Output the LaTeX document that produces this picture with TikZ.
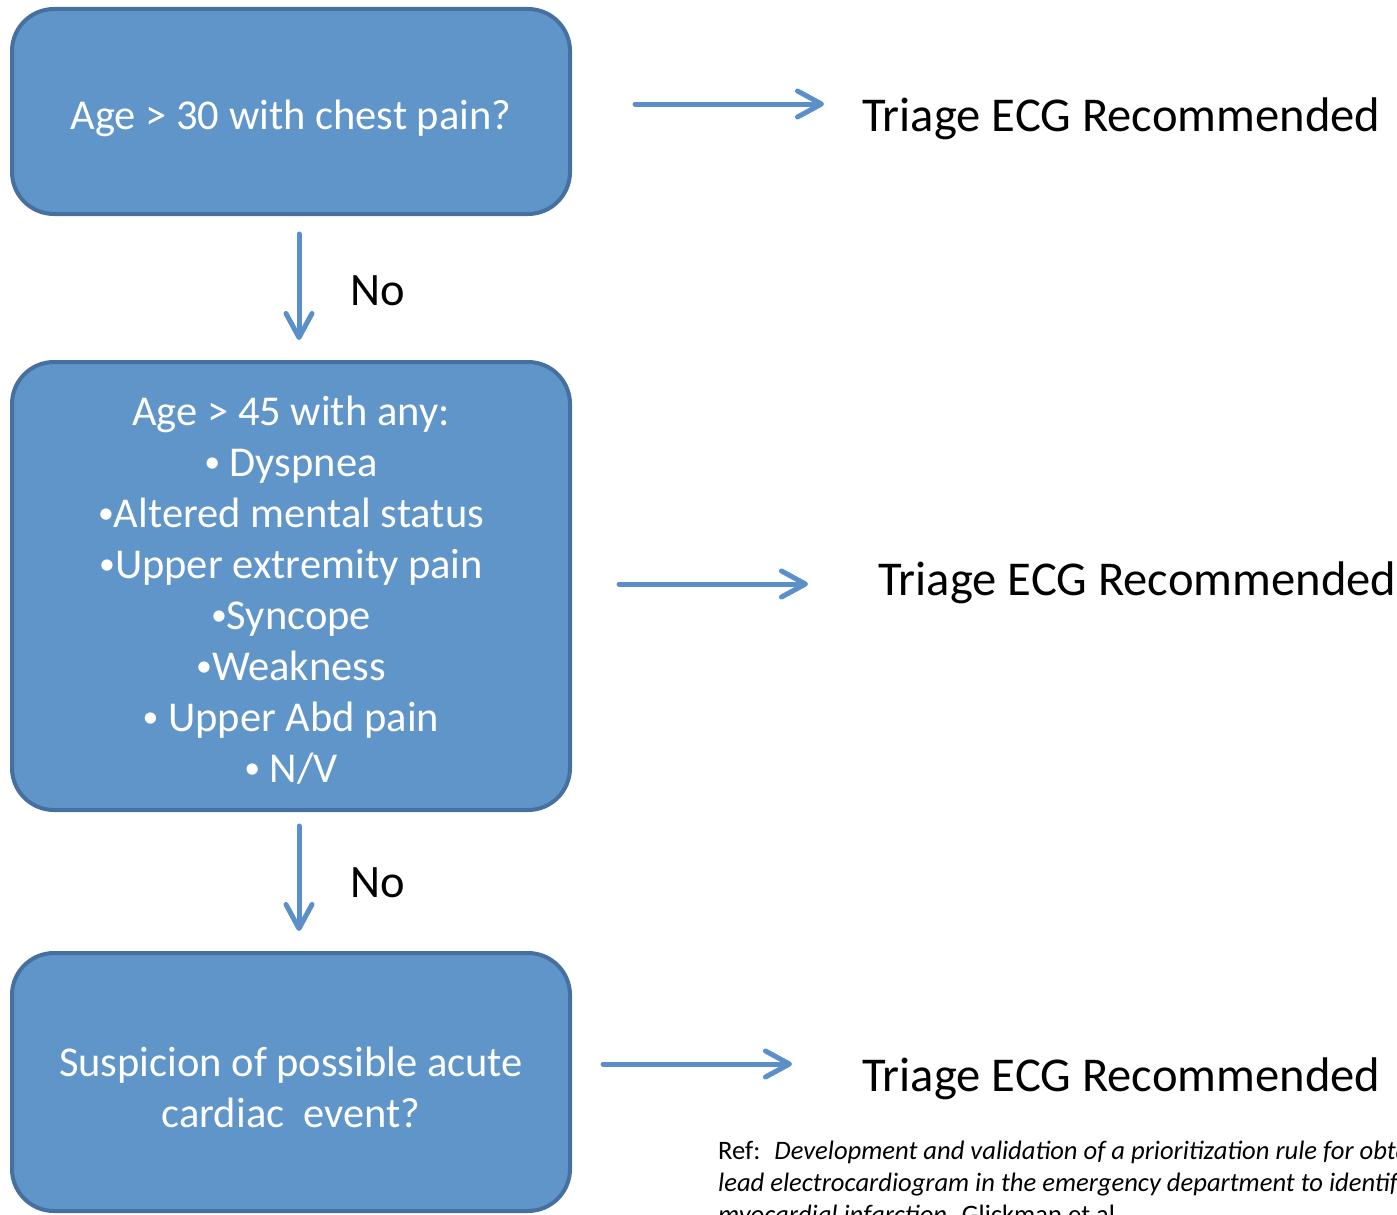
\documentclass[tikz,border=0pt]{standalone}
\usepackage{fontspec}
\setmainfont{Carlito}
\usetikzlibrary{arrows.meta}
\definecolor{boxfill}{HTML}{6095C9}
\definecolor{boxdraw}{HTML}{45709F}
\definecolor{arr}{HTML}{5B8FC8}
\newcommand{\bul}{\raisebox{0.1em}{\scalebox{0.75}{•}}}
\begin{document}
\begin{tikzpicture}[x=1pt,y=-1pt,
  box/.style={draw=boxdraw, fill=boxfill, line width=4pt, rounded corners=42pt,
    minimum width=558pt, inner sep=0pt},
  boxtext/.style={text=white, font=\fontsize{42.5}{51}\selectfont, align=center, inner sep=0pt},
  flow/.style={draw=arr, line width=5pt, line cap=round,
    -{Straight Barb[length=24pt,width=26pt,line cap=round,line join=round]}},
  result/.style={font=\fontsize{48.6}{58}\selectfont, inner sep=0pt, anchor=west},
  nolabel/.style={font=\fontsize{46.5}{55}\selectfont, inner sep=0pt},
  reftext/.style={font=\fontsize{26.6}{32}\selectfont, inner sep=0pt, anchor=north west, align=left}]
\useasboundingbox (0,0) rectangle (1397,1215);
\clip (0,0) rectangle (1397,1215);

\node[box, minimum height=205pt,
  label={[boxtext, yshift=-7pt]center:Age > 30 with chest pain?}] (b1) at (291,111.5) {};
\node[box, minimum height=448pt,
  label={[boxtext, yshift=-4pt]center:{Age > 45 with any:\\ \bul\ Dyspnea\\ \bul Altered mental status\\ \bul Upper extremity pain\\ \bul Syncope\\ \bul Weakness\\ \bul\ Upper Abd pain\\ \bul\ N/V}}] (b2) at (291,586) {};
\node[box, minimum height=258pt,
  label={[boxtext, yshift=-5pt]center:{Suspicion of possible acute\\cardiac~ event?}}] (b3) at (291,1082) {};

\node[result] (t1) at (862,119) {Triage ECG Recommended};
\node[result] (t2) at (878,583) {Triage ECG Recommended};
\node[result] (t3) at (862,1079) {Triage ECG Recommended};

\node[nolabel] (n1) at (378,291) {No};
\node[nolabel] (n2) at (378,883) {No};

\draw[flow] ([shift={(8,18)}]b1.south) -- ([shift={(8,-20)}]b2.north);
\draw[flow] ([shift={(8,14)}]b2.south) -- ([shift={(8,-20)}]b3.north);

\draw[flow] ([shift={(63,-7.5)}]b1.east) -- ([shift={(-38,-15)}]t1.west);
\draw[flow] ([shift={(47,-2)}]b2.east) -- ([shift={(-70,1)}]t2.west);
\draw[flow] ([shift={(31,-18)}]b3.east) -- ([shift={(-70,-15)}]t3.west);

\node[reftext] (ref) at (718,1141) {Ref:~ \textit{Development and validation of a prioritization rule for obtaining an immediate 12-}\\
\textit{lead electrocardiogram in the emergency department to identify ST-elevation}\\
\textit{myocardial infarction}. Glickman et al.};
\end{tikzpicture}
\end{document}
